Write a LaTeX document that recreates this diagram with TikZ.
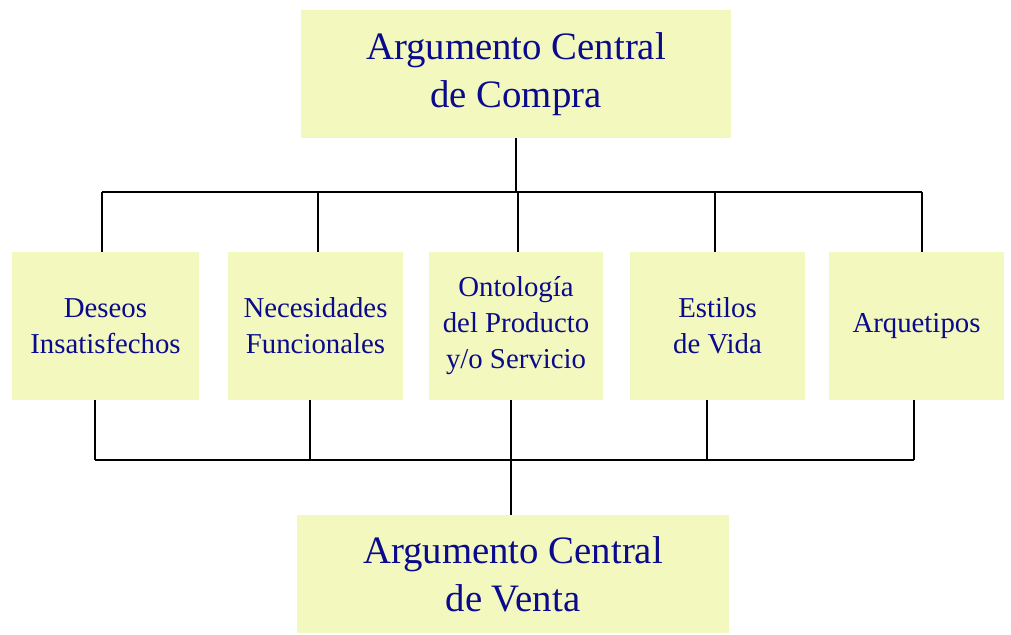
\documentclass[tikz,border=0pt]{standalone}
\usepackage{fontspec}
\setmainfont{Liberation Serif}
\usetikzlibrary{positioning}
\definecolor{boxfill}{RGB}{243,248,190}
\definecolor{boxtext}{RGB}{10,10,140}
\begin{document}
\begin{tikzpicture}[
            x = 0.5pt, y = 0.5pt, % one unit is one pixel of the reference
            node distance = 13pt,% distance between nodes
            line width = 1pt, % line style
        ]
\tikzstyle{bigbox}=[
            shape = rectangle,
            fill = boxfill,
            text = boxtext,
            align = center,
            outer sep = 0pt,
            font = \fontsize{19.4}{24}\selectfont,
            minimum width = 215pt,
            minimum height = 64pt
        ]
\tikzstyle{smallbox}=[
            shape = rectangle,
            fill = boxfill,
            text = boxtext,
            align = center,
            outer sep = 0pt,
            font = \fontsize{14.4}{18}\selectfont,
            minimum width = 87.5pt,
            minimum height = 74pt
        ]
\useasboundingbox (0,0) rectangle (1011,635);
\node[smallbox, minimum width = 93.5pt] (deseos) at (105.5,309) {Deseos\\Insatisfechos};
\node[smallbox, right=14.5pt of deseos] (necesidades) {Necesidades\\Funcionales};
\node[smallbox, right=of necesidades, minimum width = 87pt] (ontologia) {Ontología\\del Producto\\y/o Servicio};
\node[smallbox, right=13.5pt of ontologia] (estilos) {Estilos\\de Vida};
\node[smallbox, right=12pt of estilos] (arquetipos) {Arquetipos};
\node[bigbox, above=57pt of ontologia] (compra) {Argumento Central\\de Compra};
\node[bigbox, below=57.5pt of ontologia, xshift=-1.5pt, minimum width = 216pt, minimum height = 59pt] (venta) {Argumento Central\\de Venta};
\coordinate (topbus) at (0,443);
\coordinate (lowbus) at (0,175);
% upper tree
\draw (compra.south) -- (compra.south |- topbus);
\draw ([xshift=-1.75pt]deseos.north |- topbus) -- ([xshift=2.75pt]arquetipos.north |- topbus);
\foreach \n/\s in {deseos/-1.75, necesidades/1.25, ontologia/1, estilos/-1.25, arquetipos/2.75}
    \draw ([xshift=\s pt]\n.north) -- ([xshift=\s pt]\n.north |- topbus);
% lower tree
\foreach \n/\s in {deseos/-5.25, necesidades/-2.75, ontologia/-2.5, estilos/-5.25, arquetipos/-1.25}
    \draw ([xshift=\s pt]\n.south) -- ([xshift=\s pt]\n.south |- lowbus);
\draw ([xshift=-5.25pt]deseos.south |- lowbus) -- ([xshift=-1.25pt]arquetipos.south |- lowbus);
\draw ([xshift=-1pt]venta.north |- lowbus) -- ([xshift=-1pt]venta.north);
\end{tikzpicture}
\end{document}
